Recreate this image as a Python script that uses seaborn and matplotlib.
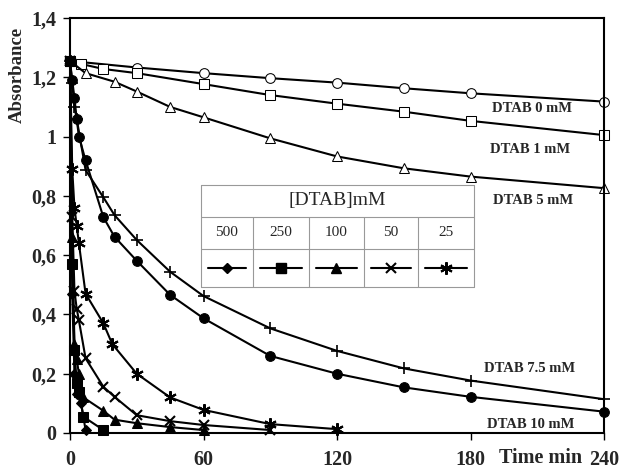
import seaborn as sns
import numpy as np
import pandas as pd
import matplotlib.pyplot as plt
from matplotlib.lines import Line2D
from matplotlib.ticker import FuncFormatter

# time (min) and absorbance for each DTAB concentration
t_0 = [0, 30, 60, 90, 120, 150, 180, 240]
a_0 = [1.255, 1.233, 1.214, 1.197, 1.182, 1.163, 1.146, 1.118]

t_1 = [0, 5, 15, 30, 60, 90, 120, 150, 180, 240]
a_1 = [1.255, 1.245, 1.228, 1.214, 1.177, 1.14, 1.111, 1.084, 1.053, 1.005]

t_5 = [0, 7, 20, 30, 45, 60, 90, 120, 150, 180, 240]
a_5 = [1.255, 1.214, 1.185, 1.152, 1.10, 1.065, 0.994, 0.933, 0.893, 0.865, 0.826]

t_75 = [0, 1, 2, 3, 7, 15, 20, 30, 45, 60, 90, 120, 150, 180, 240]
a_75 = [1.255, 1.18, 1.10, 1.06, 0.887, 0.795, 0.735, 0.651, 0.544, 0.462, 0.353, 0.277, 0.218, 0.177, 0.114]

t_10 = [0, 1, 2, 3, 4, 7, 15, 20, 30, 45, 60, 90, 120, 150, 180, 240]
a_10 = [1.255, 1.19, 1.13, 1.06, 1.0, 0.92, 0.728, 0.662, 0.581, 0.466, 0.387, 0.26, 0.20, 0.154, 0.122, 0.072]

t_25 = [0, 1, 2, 3, 4, 7, 15, 19, 30, 45, 60, 90, 120]
a_25 = [1.255, 0.89, 0.76, 0.70, 0.64, 0.47, 0.37, 0.30, 0.20, 0.12, 0.078, 0.03, 0.013]

t_50 = [0, 1, 2, 3, 4, 7, 15, 20, 30, 45, 60, 90]
a_50 = [1.255, 0.73, 0.48, 0.42, 0.38, 0.252, 0.156, 0.122, 0.06, 0.04, 0.027, 0.01]

t_100 = [0, 1, 2, 3, 4, 6, 15, 20, 30, 45, 60]
a_100 = [1.255, 0.66, 0.30, 0.25, 0.20, 0.12, 0.075, 0.045, 0.033, 0.02, 0.01]

t_250 = [0, 1, 2, 3, 4, 6, 15]
a_250 = [1.255, 0.57, 0.28, 0.17, 0.14, 0.055, 0.01]

t_500 = [0, 1, 2, 3, 5, 7]
a_500 = [1.255, 0.47, 0.20, 0.13, 0.10, 0.01]

legend_conc = ["500", "250", "100", "50", "25"]
curve_labels = ["DTAB 0 mM", "DTAB 1 mM", "DTAB 5 mM", "DTAB 7.5 mM", "DTAB 10 mM"]

sns.set_style("white")
plt.rcParams['font.family'] = ['Liberation Serif', 'DejaVu Serif']

W, H = 619, 470
fig = plt.figure(figsize=(W / 100, H / 100), dpi=100)
ax = fig.add_axes([70 / W, 1 - 433 / H, (604 - 70) / W, (433 - 18) / H])

def fx(px):
    return px / W

def fy(py):
    return 1 - py / H

ASTER = (6, 2, 0)
series = [
    (t_0, a_0, dict(marker='o', markerfacecolor='white', markersize=7)),
    (t_1, a_1, dict(marker='s', markerfacecolor='white', markersize=6.5)),
    (t_5, a_5, dict(marker='^', markerfacecolor='white', markersize=7)),
    (t_75, a_75, dict(marker='+', markersize=9, markeredgewidth=1.2)),
    (t_10, a_10, dict(marker='o', markerfacecolor='black', markersize=7)),
    (t_25, a_25, dict(marker=ASTER, markersize=9, markeredgewidth=1.5)),
    (t_50, a_50, dict(marker='x', markersize=7, markeredgewidth=1.5)),
    (t_100, a_100, dict(marker='^', markerfacecolor='black', markersize=7)),
    (t_250, a_250, dict(marker='s', markerfacecolor='black', markersize=6.5)),
    (t_500, a_500, dict(marker='D', markerfacecolor='black', markersize=5.5)),
]
for t, a, style in series:
    df = pd.DataFrame({"t": t, "a": a})
    sns.lineplot(data=df, x="t", y="a", ax=ax, color='black', linewidth=1.5,
                 markeredgecolor='black', clip_on=False, **style)

ax.set_xlim(0, 240)
ax.set_ylim(0, 1.4)
ax.set_xticks([0, 60, 120, 180, 240])
ax.set_yticks(np.arange(0, 1.41, 0.2))

def comma(v, pos):
    if abs(v - round(v)) < 1e-6:
        return str(int(round(v)))
    return ("%.1f" % v).replace('.', ',')

ax.yaxis.set_major_formatter(FuncFormatter(comma))
ax.tick_params(axis='both', direction='out', length=5, width=1, color='black',
               labelsize=14.5, bottom=True, left=True)
ax.tick_params(axis='y', pad=5)
ax.tick_params(axis='x', pad=7)
for lab in ax.get_xticklabels() + ax.get_yticklabels():
    lab.set_fontweight('bold')
for s in ax.spines.values():
    s.set_color('black')
    s.set_linewidth(1.5)
ax.set_xlabel("")
ax.set_ylabel("")

fig.text(fx(17), fy(75), "Absorbance", rotation=90, ha='center', va='center',
         fontsize=13.5, fontweight='bold')
fig.text(fx(541), fy(458), "Time min", ha='center', va='center',
         fontsize=14.5, fontweight='bold')

label_pos = [(532, 108), (530, 149), (533, 201), (530, 368), (531, 424)]
for txt, (px, py) in zip(curve_labels, label_pos):
    fig.text(fx(px), fy(py), txt, ha='center', va='center', fontsize=10.5, fontweight='bold')

# legend table
cols = [201, 253, 309, 364, 418, 474]
rows = [185, 217, 249, 287]
grey = '#999999'
for py in rows:
    fig.add_artist(Line2D([fx(cols[0]), fx(cols[-1])], [fy(py), fy(py)], color=grey, lw=0.8))
for i, px in enumerate(cols):
    top = rows[0] if i in (0, len(cols) - 1) else rows[1]
    fig.add_artist(Line2D([fx(px), fx(px)], [fy(top), fy(rows[-1])], color=grey, lw=0.8))
fig.text(fx((cols[0] + cols[-1]) / 2), fy(201), "[DTAB]mM", ha='center', va='center', fontsize=14)
leg_markers = [('D', 'black', 5.5, 1), ('s', 'black', 6.5, 1), ('^', 'black', 7, 1),
               ('x', 'black', 7, 1.5), (ASTER, 'black', 9, 1.5)]
for i, conc in enumerate(legend_conc):
    cx = (cols[i] + cols[i + 1]) / 2
    fig.text(fx(cx), fy(233), conc, ha='center', va='center', fontsize=11)
    m, fc, ms, mew = leg_markers[i]
    fig.add_artist(Line2D([fx(cols[i] + 7), fx(cols[i + 1] - 7)], [fy(268), fy(268)],
                          color='black', lw=1.5))
    fig.add_artist(Line2D([fx(cx)], [fy(268)], marker=m, markersize=ms, markerfacecolor=fc,
                          markeredgecolor='black', markeredgewidth=mew, linestyle='none'))

fig.savefig("out.png", dpi=100)
